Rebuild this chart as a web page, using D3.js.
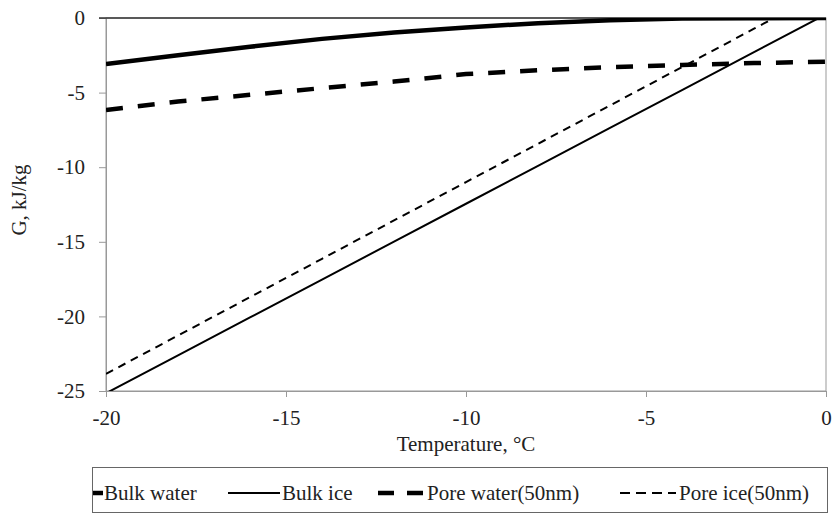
<!DOCTYPE html>
<html>
<head>
<meta charset="utf-8">
<script src="https://cdn.jsdelivr.net/npm/d3@7"></script>
<style>
  body { margin: 0; background: #fff; }
  svg, svg text {
    font-family: 'Liberation Serif', 'Times New Roman', 'DejaVu Serif', serif !important;
  }
</style>
</head>
<body>
<div id="chart"></div>
<script>
// temperatures (°C) and G values (kJ/kg)
const temps = [-20, -18, -16, -14, -12, -10, -8, -6, -4, -2, 0];
const bulkWater = [-3.08, -2.50, -1.93, -1.40, -0.97, -0.63, -0.35, -0.15, -0.04, -0.01, 0];
const bulkIce = [-25.15, -22.61, -20.07, -17.53, -14.99, -12.45, -9.91, -7.37, -4.83, -2.29, 0.25];
const poreWater = [-6.17, -5.60, -5.15, -4.70, -4.26, -3.76, -3.50, -3.30, -3.15, -3.02, -2.93];
const poreIce = [-23.85, -21.28, -18.71, -16.14, -13.57, -11.00, -8.43, -5.86, -3.29, -0.72, 1.85];

const xTicks = [-20, -15, -10, -5, 0];
const yTicks = [0, -5, -10, -15, -20, -25];

const seriesNames = ["Bulk water", "Bulk ice", "Pore water(50nm)", "Pore ice(50nm)"];
const seriesValues = [bulkWater, bulkIce, poreWater, poreIce];
const styles = [
  { w: 4.5, dash: null },
  { w: 2, dash: null },
  { w: 4.5, dash: "17,15" },
  { w: 2, dash: "8,6" }
];

const FS = "21px";

const width = 833, height = 516;
const margin = { top: 18, right: 7, bottom: 125, left: 106 };
const innerW = width - margin.left - margin.right;
const innerH = height - margin.top - margin.bottom;

const svg = d3.select("#chart").append("svg")
  .attr("width", width)
  .attr("height", height);

const g = svg.append("g")
  .attr("transform", `translate(${margin.left},${margin.top})`);

const x = d3.scaleLinear().domain([-20, 0]).range([0, innerW]);
const y = d3.scaleLinear().domain([-25, 0]).range([innerH, 0]);

svg.append("defs").append("clipPath").attr("id", "plot")
  .append("rect").attr("width", innerW).attr("height", innerH);

// plot frame
g.append("rect")
  .attr("width", innerW).attr("height", innerH)
  .attr("fill", "none").attr("stroke", "#999").attr("stroke-width", 1);

const fmt = d => String(d);

const yAxis = g.append("g")
  .call(d3.axisLeft(y).tickValues(yTicks).tickFormat(fmt).tickSize(7).tickPadding(14));
yAxis.attr("font-family", null).attr("font-size", FS);
yAxis.select(".domain").attr("stroke", "#999");
yAxis.selectAll(".tick line").attr("stroke", "#999");
yAxis.selectAll("text").attr("fill", "#222");

const xAxis = g.append("g")
  .attr("transform", `translate(0,${innerH})`)
  .call(d3.axisBottom(x).tickValues(xTicks).tickFormat(fmt).tickSize(6).tickPadding(13));
xAxis.attr("font-family", null).attr("font-size", FS);
xAxis.select(".domain").attr("stroke", "#999");
xAxis.selectAll(".tick line").attr("stroke", "#999");
xAxis.selectAll("text").attr("fill", "#222");

// horizontal axis line at G = 0 (top)
g.append("line")
  .attr("x1", -7).attr("x2", innerW)
  .attr("y1", y(0)).attr("y2", y(0))
  .attr("stroke", "#333").attr("stroke-width", 1.5);

const line = d3.line()
  .x((d, i) => x(temps[i]))
  .y(d => y(d));

const lineG = g.append("g").attr("clip-path", "url(#plot)");
seriesValues.forEach((vals, i) => {
  lineG.append("path")
    .datum(vals)
    .attr("fill", "none")
    .attr("stroke", "#000")
    .attr("stroke-width", styles[i].w)
    .attr("stroke-dasharray", styles[i].dash)
    .attr("d", line);
});

// axis titles
svg.append("text")
  .attr("x", margin.left + innerW / 2)
  .attr("y", 451)
  .attr("text-anchor", "middle")
  .attr("font-size", FS).attr("fill", "#222")
  .text("Temperature, °C");

svg.append("text")
  .attr("transform", `translate(26,200) rotate(-90)`)
  .attr("text-anchor", "middle")
  .attr("font-size", FS).attr("fill", "#222")
  .text("G, kJ/kg");

// legend
const legend = svg.append("g");
legend.append("rect")
  .attr("x", 92.5).attr("y", 467.5)
  .attr("width", 735).attr("height", 45)
  .attr("fill", "none").attr("stroke", "#666");

const legendItems = [
  { x1: 93, x2: 103, tx: 104 },
  { x1: 228, x2: 280, tx: 282 },
  { x1: 378, x2: 423, tx: 427 },
  { x1: 620, x2: 676, tx: 679 }
];
const legendDash = [null, null, "16,13", "10,6"];
legendItems.forEach((it, i) => {
  legend.append("line")
    .attr("x1", it.x1).attr("x2", it.x2)
    .attr("y1", 493).attr("y2", 493)
    .attr("stroke", "#000")
    .attr("stroke-width", styles[i].w)
    .attr("stroke-dasharray", legendDash[i]);
  legend.append("text")
    .attr("x", it.tx).attr("y", 500)
    .attr("font-size", FS).attr("fill", "#222")
    .text(seriesNames[i]);
});
</script>
</body>
</html>
